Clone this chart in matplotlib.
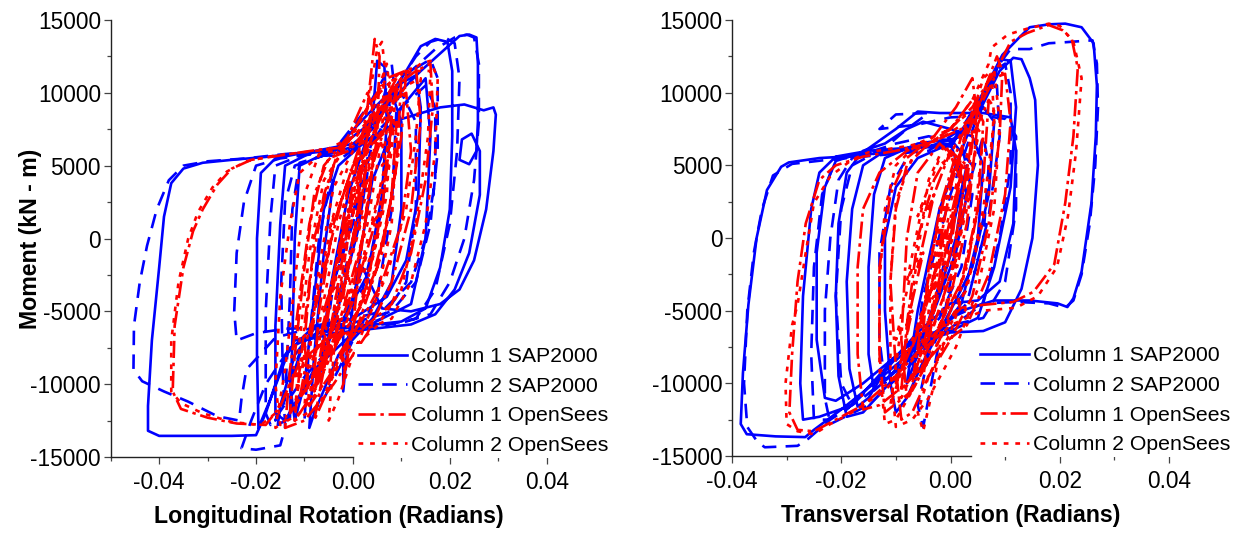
import matplotlib
matplotlib.use("Agg")
import matplotlib.pyplot as plt
from matplotlib.ticker import MultipleLocator, FormatStrFormatter

plt.rcParams['font.family'] = ['Liberation Sans', 'DejaVu Sans']
plt.rcParams['axes.unicode_minus'] = False

# ---------------- data (rotation [rad], moment [kN-m]) ----------------
long_c1_sap = [
    (0.000, 0), (0.003, 4500), (0.001, 500), (-0.004, -6000), (-0.007, -9500), (-0.005, -4000),
    (-0.001, 3000), (0.004, 8000), (0.005, 12200), (0.0065, 11800), (0.007, 8000), (0.006, 3000),
    (0.003, -2500), (-0.002, -5500), (-0.008, -6200), (-0.012, -8000), (-0.015, -11500), (-0.0155, -12800),
    (-0.013, -12300), (-0.0125, -7000), (-0.012, 0), (-0.011, 5000), (-0.006, 5800), (0.000, 6000),
    (0.006, 9000), (0.011, 11500), (0.014, 13200), (0.017, 13700), (0.0195, 13500), (0.0205, 11500),
    (0.0205, 7000), (0.020, 2000), (0.018, -2000), (0.015, -4800), (0.010, -5700), (0.002, -6000),
    (-0.006, -6300), (-0.013, -7500), (-0.017, -11000), (-0.0195, -13000), (-0.0198, -8000), (-0.0198, 0),
    (-0.019, 4500), (-0.016, 5500), (-0.010, 5900), (-0.004, 6000), (0.003, 8500), (0.009, 10500),
    (0.013, 11200), (0.014, 9000), (0.0135, 3000), (0.011, -1500), (0.007, -4000), (0.000, -5500),
    (-0.008, -6000), (-0.014, -8000), (-0.018, -12000), (-0.020, -13500), (-0.025, -13550), (-0.033, -13550),
    (-0.040, -13550), (-0.0423, -13200), (-0.0423, -11500), (-0.0415, -7000), (-0.040, -2000), (-0.0390, 1500),
    (-0.0375, 3800), (-0.035, 4800), (-0.031, 5200), (-0.025, 5400), (-0.018, 5600), (-0.010, 5900),
    (-0.004, 6000), (0.002, 7500), (0.008, 9500), (0.014, 11500), (0.019, 13000), (0.022, 13900),
    (0.024, 14000), (0.0255, 13800), (0.0258, 12000), (0.0258, 8000), (0.0255, 6000), (0.024, 5100),
    (0.022, 5400), (0.0225, 6800), (0.0245, 7200), (0.0262, 6000), (0.0262, 3000), (0.024, -1000),
    (0.021, -3500), (0.017, -5200), (0.012, -5900), (0.004, -6200), (-0.004, -6500), (-0.010, -7000),
    (-0.013, -10000), (-0.012, -12500), (-0.010, -10000), (-0.008, -4000), (-0.006, 2000), (-0.003, 5000),
    (0.002, 6500), (0.010, 8200), (0.018, 9000), (0.023, 9200), (0.027, 8800), (0.029, 9000),
    (0.0295, 8500), (0.029, 6000), (0.0275, 2000), (0.025, -1500), (0.022, -3500), (0.018, -4500),
    (0.012, -5000), (0.006, -4800), (0.002, -2000), (-0.002, -6000), (-0.002, -10500), (-0.001, -7000),
    (0.002, 0), (0.004, 4000), (0.010, 9000), (0.015, 11000), (0.016, 7000), (0.015, 0),
    (0.012, -4500), (0.006, -5500), (0.000, -6500), (-0.008, -9000), (-0.014, -12500), (-0.016, -12000),
    (-0.016, -6000), (-0.015, 1000), (-0.014, 5000), (-0.008, 6000), (0.000, 6500), (0.004, 7500),
    (0.008, 10000), (0.010, 8000), (0.010, 2000), (0.008, -3000), (0.004, -5500), (-0.003, -8000),
    (-0.008, -12000), (-0.009, -13000), (-0.008, -8000), (-0.006, -1000), (-0.004, 4000),
]
long_c2_sap = [
    (0.000, 0), (-0.003, -4000), (-0.006, -8000), (-0.004, -3000), (0.001, 3000), (0.005, 8000),
    (0.007, 10500), (0.008, 8000), (0.006, 2000), (0.002, -3500), (-0.004, -5800), (-0.010, -7000),
    (-0.014, -10500), (-0.016, -12500), (-0.014, -11000), (-0.013, -4000), (-0.0125, 2000), (-0.011, 5200),
    (-0.005, 5800), (0.002, 6500), (0.008, 10000), (0.013, 12500), (0.016, 13500), (0.019, 13800),
    (0.021, 13400), (0.022, 11000), (0.0215, 6000), (0.020, 1000), (0.017, -3500), (0.013, -5500),
    (0.006, -6000), (-0.004, -6200), (-0.012, -7000), (-0.018, -10000), (-0.021, -12500), (-0.023, -14400),
    (-0.020, -14500), (-0.015, -14200), (-0.014, -13000), (-0.0145, -9000), (-0.0148, -3000), (-0.014, 2500),
    (-0.012, 5000), (-0.006, 5700), (0.000, 6000), (0.006, 9000), (0.012, 11500), (0.016, 12300),
    (0.0175, 11000), (0.0175, 6000), (0.016, 1000), (0.013, -3000), (0.008, -5000), (0.000, -5800),
    (-0.008, -6100), (-0.016, -6800), (-0.022, -9000), (-0.023, -11000), (-0.0235, -12500), (-0.028, -12200),
    (-0.034, -11200), (-0.039, -10500), (-0.0435, -9800), (-0.0453, -9000), (-0.0452, -6000), (-0.044, -3000),
    (-0.0425, -500), (-0.0405, 2000), (-0.038, 4000), (-0.035, 5000), (-0.030, 5300), (-0.022, 5500),
    (-0.014, 5800), (-0.006, 6000), (0.000, 6200), (0.006, 9000), (0.012, 11500), (0.017, 13000),
    (0.021, 13800), (0.0235, 14000), (0.025, 13800), (0.026, 12000), (0.026, 8000), (0.025, 4000),
    (0.023, 0), (0.020, -3000), (0.016, -5200), (0.010, -5800), (0.002, -6000), (-0.006, -6100),
    (-0.014, -6200), (-0.020, -6500), (-0.024, -7000), (-0.0245, -5000), (-0.024, -1000), (-0.0225, 2500),
    (-0.020, 5000), (-0.015, 5500), (-0.008, 5800), (-0.002, 5600), (0.004, 7000), (0.010, 9000),
    (0.015, 10500), (0.017, 9000), (0.017, 4000), (0.015, 0), (0.012, -3000), (0.006, -5000),
    (0.000, -5500), (-0.004, -3000), (0.000, 1000), (0.004, 6500), (0.010, 10000), (0.013, 8000),
    (0.013, 2000), (0.011, -3000), (0.006, -5500), (-0.002, -6500), (-0.010, -9500), (-0.017, -12800),
    (-0.018, -12000), (-0.018, -5000), (-0.017, 1500), (-0.016, 5000), (-0.010, 5800), (-0.004, 6000),
    (0.003, 9000), (0.008, 12000), (0.009, 9000), (0.008, 2000), (0.005, -4000), (0.000, -7000),
    (-0.006, -11000), (-0.010, -12500), (-0.009, -7000), (-0.007, 0), (-0.004, 5000),
]
long_c1_os = [
    (0.000, 0), (0.003, 5500), (0.001, 1000), (-0.003, -5000), (-0.007, -9500), (-0.005, -5000),
    (-0.001, 2000), (0.003, 9000), (0.0045, 13700), (0.0055, 12500), (0.005, 7000), (0.002, 0),
    (-0.003, -6000), (-0.008, -10500), (-0.012, -12500), (-0.011, -9000), (-0.009, -3000), (-0.006, 3000),
    (-0.003, 6000), (0.003, 8000), (0.009, 10500), (0.013, 11500), (0.016, 12000), (0.0165, 9000),
    (0.015, 4000), (0.012, -1000), (0.008, -4500), (0.002, -6200), (-0.005, -6800), (-0.011, -8500),
    (-0.015, -11500), (-0.018, -12800), (-0.024, -12700), (-0.030, -12300), (-0.0355, -11700), (-0.0372, -10500),
    (-0.0368, -6000), (-0.035, -2000), (-0.033, 500), (-0.031, 2000), (-0.028, 3700), (-0.025, 4800),
    (-0.021, 5400), (-0.015, 5700), (-0.007, 6100), (0.000, 6300), (0.005, 8500), (0.009, 11000),
    (0.011, 11500), (0.010, 7000), (0.007, 1000), (0.003, -4000), (-0.002, -6500), (-0.007, -9000),
    (-0.011, -11000), (-0.013, -12000), (-0.012, -8000), (-0.010, -2000), (-0.008, 3000), (-0.005, 5500),
    (-0.001, 6000), (0.004, 7500), (0.008, 9500), (0.011, 10000), (0.012, 6000), (0.010, 1000),
    (0.006, -3000), (0.002, -5500), (-0.003, -8000), (-0.006, -11000), (-0.008, -12500), (-0.006, -9000),
    (-0.003, -3000), (0.000, 3000), (0.003, 7000), (0.006, 9500), (0.008, 8000), (0.006, 2000),
    (0.003, -3000), (-0.001, -7000), (-0.002, -10000), (0.000, -6000), (0.002, 0), (0.004, 5000),
    (0.008, 9000), (0.010, 11000), (0.009, 5000), (0.006, -1000), (0.001, -6000), (-0.004, -9000),
    (-0.009, -11500), (-0.010, -7000), (-0.008, 0), (-0.004, 5000), (0.002, 8500), (0.007, 11000),
    (0.013, 11800), (0.014, 8000), (0.012, 2000), (0.008, -3000), (0.003, -6500), (-0.004, -10000),
    (-0.010, -12500), (-0.014, -13000), (-0.013, -9000), (-0.011, -4000), (-0.009, 1000), (-0.006, 5000),
    (-0.001, 7000), (0.003, 10000), (0.005, 8000), (0.003, 2000), (0.000, -3500), (-0.004, -7000),
    (-0.008, -9500), (-0.007, -5000), (-0.004, 1000), (0.000, 5000), (0.004, 6500), (0.009, 8000),
    (0.008, 3000), (0.005, -2000), (0.001, -5000), (-0.002, -4000), (0.001, 2000), (0.003, 4000),
    (0.001, 2500), (0.002, 5000), (-0.001, 3500), (-0.003, -1000), (-0.002, 500), (-0.005, -4000),
    (-0.004, -3000), (-0.007, -7000), (-0.006, -6000), (-0.010, -10000), (-0.009, -9000), (-0.011, -11000),
    (-0.008, -5500), (-0.009, -6500), (-0.005, -1000), (-0.006, -2000), (-0.002, 3000), (-0.003, 2000),
    (0.001, 6000), (0.002, 5500), (0.006, 8500), (0.005, 8000), (0.009, 10500), (0.007, 6000),
    (0.008, 6500), (0.004, 1000), (0.005, 1500), (0.000, -4000), (0.001, -3500), (-0.004, -7500),
    (-0.003, -7000), (-0.008, -10500), (-0.005, -4500), (-0.006, -5000), (-0.001, 1000), (-0.002, 500),
    (0.003, 6500),
]
long_c2_os = [
    (0.000, 0), (-0.002, -3000), (-0.006, -8000), (-0.009, -11000), (-0.007, -6000), (-0.003, 1000),
    (0.002, 7000), (0.006, 10500), (0.009, 11000), (0.008, 6000), (0.005, 0), (0.001, -5000),
    (-0.005, -8000), (-0.010, -10500), (-0.014, -12500), (-0.016, -13000), (-0.014, -9000), (-0.012, -3000),
    (-0.010, 3000), (-0.007, 5800), (-0.001, 6200), (0.005, 9000), (0.010, 11000), (0.014, 12000),
    (0.016, 12200), (0.0175, 11000), (0.017, 6000), (0.015, 1000), (0.012, -3000), (0.008, -5500),
    (0.002, -6300), (-0.006, -7000), (-0.012, -9500), (-0.016, -12000), (-0.019, -12800), (-0.025, -12600),
    (-0.031, -12000), (-0.0355, -11300), (-0.0375, -10500), (-0.0375, -7000), (-0.036, -3000), (-0.034, 0),
    (-0.032, 1800), (-0.029, 3500), (-0.026, 4600), (-0.022, 5300), (-0.016, 5700), (-0.008, 6000),
    (-0.002, 6200), (0.003, 9000), (0.005, 13000), (0.006, 13500), (0.0065, 12000), (0.006, 7000),
    (0.003, 1000), (-0.001, -4000), (-0.006, -8500), (-0.010, -11500), (-0.009, -8000), (-0.007, -2000),
    (-0.004, 3500), (0.000, 6000), (0.006, 8000), (0.011, 10500), (0.014, 11000), (0.013, 7000),
    (0.011, 2000), (0.007, -2500), (0.003, -5500), (-0.002, -7500), (-0.005, -10000), (-0.004, -6000),
    (-0.001, 0), (0.002, 5000), (0.005, 8000), (0.007, 5000), (0.004, -1000), (0.000, -4000),
    (-0.002, -1000), (0.001, 3000), (0.004, 9000), (0.007, 12000), (0.008, 9000), (0.007, 3000),
    (0.003, -3000), (-0.002, -8000), (-0.007, -11500), (-0.012, -12500), (-0.011, -7000), (-0.009, -1000),
    (-0.006, 4000), (-0.002, 6000), (0.004, 9500), (0.010, 11500), (0.016, 11500), (0.0155, 7000),
    (0.013, 1000), (0.010, -3500), (0.005, -6000), (0.000, -7500), (-0.006, -10000), (-0.011, -12000),
    (-0.015, -12800), (-0.016, -10000), (-0.015, -4000), (-0.013, 1000), (-0.011, 4500), (-0.006, 6000),
    (0.000, 7000), (0.006, 9000), (0.009, 7000), (0.008, 1000), (0.005, -4000), (0.000, -8000),
    (-0.003, -11000), (-0.005, -12500), (-0.004, -8000), (-0.002, -2000), (0.001, 3500), (0.004, 6000),
    (0.003, 4500), (0.006, 7500), (0.004, 5000), (0.001, 500), (0.002, 1500), (-0.002, -3500),
    (-0.001, -2500), (-0.005, -7000), (-0.004, -6000), (-0.008, -9500), (-0.007, -8500), (-0.012, -11500),
    (-0.010, -8000), (-0.011, -9000), (-0.007, -3500), (-0.008, -4500), (-0.004, 1500), (-0.005, 500),
    (-0.001, 5000), (0.000, 4500), (0.004, 8500), (0.003, 7500), (0.008, 10000), (0.006, 5000),
    (0.007, 5500), (0.002, -1500), (0.003, -1000), (-0.002, -6000), (-0.001, -5500), (-0.006, -9000),
    (-0.003, -3000), (-0.004, -3500), (0.000, 2500), (-0.001, 1500), (0.004, 7000),
]

trans_c1_sap = [
    (0.000, 0), (0.003, 5000), (0.001, 0), (-0.004, -6000), (-0.008, -10000), (-0.006, -5000),
    (-0.002, 2000), (0.004, 8000), (0.008, 11000), (0.009, 12300), (0.011, 12200), (0.012, 9000),
    (0.011, 3500), (0.008, -2000), (0.005, -5500), (0.000, -6400), (-0.006, -6800), (-0.011, -8500),
    (-0.015, -11000), (-0.017, -11600), (-0.0185, -9000), (-0.019, -3000), (-0.018, 2000), (-0.016, 5000),
    (-0.012, 6000), (-0.006, 6200), (0.000, 6500), (0.005, 8500), (0.009, 11500), (0.0115, 12400),
    (0.013, 12300), (0.0145, 11000), (0.0155, 9500), (0.016, 5000), (0.015, 0), (0.013, -3500),
    (0.010, -5800), (0.006, -6400), (0.000, -6500), (-0.008, -7500), (-0.016, -10000), (-0.021, -11200),
    (-0.023, -11000), (-0.0245, -7000), (-0.0245, -1000), (-0.023, 3500), (-0.021, 5300), (-0.016, 5900),
    (-0.010, 7500), (-0.006, 8700), (-0.002, 8600), (0.006, 8600), (0.011, 8300), (0.012, 6000),
    (0.0115, 1000), (0.009, -3000), (0.005, -4300), (0.000, -4500), (-0.006, -6500), (-0.012, -9000),
    (-0.018, -11500), (-0.024, -12300), (-0.027, -12500), (-0.0275, -10000), (-0.027, -4000), (-0.0255, 2000),
    (-0.024, 4500), (-0.021, 5600), (-0.015, 6000), (-0.008, 6200), (0.000, 6300), (0.004, 8500),
    (0.008, 11500), (0.0095, 12600), (0.0126, 13800), (0.0145, 14500), (0.018, 14700), (0.021, 14750),
    (0.024, 14500), (0.0262, 13400), (0.0268, 10500), (0.0266, 7000), (0.0258, 2400), (0.024, -2300),
    (0.0225, -4150), (0.0214, -4750), (0.0196, -4500), (0.0145, -4300), (0.008, -4300), (0.002, -5000),
    (-0.006, -7500), (-0.014, -10000), (-0.020, -11800), (-0.025, -13200), (-0.0266, -13700), (-0.032, -13650),
    (-0.0373, -13500), (-0.0384, -12800), (-0.038, -9300), (-0.037, -4600), (-0.0355, 0), (-0.0336, 3300),
    (-0.031, 4900), (-0.0296, 5200), (-0.024, 5500), (-0.0171, 5650), (-0.010, 6000), (-0.004, 6300),
    (0.002, 7000), (0.006, 9000), (0.008, 8000), (0.007, 3000), (0.004, -2000), (0.000, -5000),
    (-0.005, -8500), (-0.008, -11000), (-0.010, -12000), (-0.011, -10000), (-0.012, -5000), (-0.012, 0),
    (-0.010, 3500), (-0.006, 5500), (0.000, 6500), (0.003, 3000), (0.001, -1000), (-0.004, -6000),
    (-0.010, -9500), (-0.016, -12000), (-0.019, -12300), (-0.0205, -9500), (-0.021, -4000), (-0.0205, 1000),
    (-0.019, 4500), (-0.016, 6000), (-0.012, 6500), (-0.008, 7500), (-0.005, 8000), (0.000, 7500),
    (0.004, 7000), (0.006, 5000), (0.005, 0), (0.002, -4500), (-0.002, -6500), (-0.008, -8500),
    (-0.014, -10500), (-0.015, -8000), (-0.015, -2000), (-0.014, 3000), (-0.012, 5500), (-0.006, 6500),
    (0.000, 6800), (0.004, 5000),
]
trans_c2_sap = [
    (0.000, 0), (-0.003, -4500), (-0.007, -9000), (-0.005, -4000), (0.000, 3000), (0.005, 8500),
    (0.008, 11500), (0.010, 12000), (0.011, 10000), (0.011, 5000), (0.009, 0), (0.006, -4500),
    (0.000, -6200), (-0.007, -7000), (-0.014, -10000), (-0.018, -11500), (-0.020, -10000), (-0.021, -4000),
    (-0.020, 2000), (-0.018, 5000), (-0.012, 6200), (-0.008, 7500), (-0.004, 8600), (-0.010, 8500),
    (-0.013, 7500), (-0.006, 7800), (0.000, 8300), (0.006, 8400), (0.010, 8200), (0.012, 7000),
    (0.012, 2000), (0.010, -3000), (0.006, -5500), (0.000, -6000), (-0.006, -7000), (-0.013, -9500),
    (-0.019, -11800), (-0.0225, -12500), (-0.025, -12500), (-0.0255, -8000), (-0.025, -2000), (-0.0235, 3000),
    (-0.021, 5400), (-0.016, 5800), (-0.008, 6000), (0.000, 6500), (0.005, 9000), (0.009, 12000),
    (0.011, 13000), (0.0145, 13000), (0.018, 13400), (0.021, 13470), (0.024, 13550), (0.026, 13600),
    (0.0268, 12000), (0.027, 9000), (0.0265, 5000), (0.0255, 1000), (0.024, -2500), (0.0225, -4300),
    (0.021, -4800), (0.018, -4500), (0.012, -4400), (0.006, -4500), (0.000, -5500), (-0.008, -8500),
    (-0.016, -11000), (-0.022, -12500), (-0.026, -13800), (-0.028, -14300), (-0.034, -14400), (-0.0354, -14000),
    (-0.0372, -13000), (-0.0378, -10000), (-0.0372, -5000), (-0.036, -1000), (-0.0345, 2000), (-0.0325, 4300),
    (-0.029, 5100), (-0.022, 5400), (-0.016, 5600), (-0.010, 5800), (-0.004, 6000), (0.002, 7500),
    (0.006, 10000), (0.0085, 10500), (0.009, 7000), (0.007, 1500), (0.004, -3000), (0.000, -5000),
    (-0.004, -8000), (-0.006, -11500), (-0.005, -13000), (-0.003, -9000), (0.000, -3000), (0.002, 2000),
    (0.006, 7000), (0.007, 5000), (0.006, 0), (0.003, -4500), (-0.002, -6500), (-0.008, -9000),
    (-0.015, -11500), (-0.022, -12800), (-0.023, -11000), (-0.023, -5000), (-0.022, 0), (-0.0205, 4000),
    (-0.018, 5500), (-0.014, 6000), (-0.010, 6500), (-0.004, 7000), (0.002, 6500), (0.004, 3000),
    (0.002, -2000), (-0.002, -5500), (-0.008, -8000), (-0.012, -10000), (-0.013, -7000), (-0.013, -1000),
    (-0.011, 3500), (-0.008, 5500),
]
trans_c1_os = [
    (0.000, 0), (0.002, 5000), (0.000, 500), (-0.004, -6000), (-0.007, -10000), (-0.005, -5000),
    (-0.002, 2000), (0.002, 7000), (0.005, 9000), (0.007, 11000), (0.0085, 12500), (0.0095, 11500),
    (0.009, 7000), (0.007, 1000), (0.004, -4000), (0.000, -7000), (-0.004, -9500), (-0.007, -12000),
    (-0.009, -12500), (-0.010, -9000), (-0.011, -3000), (-0.010, 2000), (-0.008, 5000), (-0.004, 6500),
    (0.002, 7500), (0.006, 9500), (0.008, 11000), (0.010, 11300), (0.011, 8000), (0.010, 3000),
    (0.007, -2500), (0.003, -6000), (-0.002, -7500), (-0.008, -10000), (-0.013, -11500), (-0.016, -11800),
    (-0.017, -8000), (-0.017, -2000), (-0.016, 2000), (-0.013, 4500), (-0.008, 6000), (-0.002, 6800),
    (0.004, 9000), (0.009, 12000), (0.011, 13500), (0.014, 14100), (0.018, 14650), (0.0205, 14300),
    (0.0222, 13700), (0.0233, 11700), (0.0225, 7000), (0.021, 2400), (0.019, -1800), (0.0152, -3700),
    (0.0115, -4400), (0.006, -4600), (0.002, -4800), (-0.004, -7000), (-0.010, -9500), (-0.016, -11500),
    (-0.021, -12500), (-0.025, -13300), (-0.028, -13200), (-0.0295, -12000), (-0.029, -8000), (-0.028, -3000),
    (-0.0265, 1000), (-0.024, 4000), (-0.021, 5000), (-0.016, 5600), (-0.010, 6000), (-0.004, 6500),
    (0.000, 7500), (0.004, 9500), (0.006, 8000), (0.005, 2000), (0.002, -3000), (-0.002, -6000),
    (-0.006, -9000), (-0.009, -10500), (-0.008, -6000), (-0.006, 0), (-0.003, 4000), (0.000, 6000),
    (0.003, 5000), (0.001, 0), (0.004, 7000), (0.007, 9500), (0.006, 4000), (0.003, -2000),
    (-0.002, -7000), (-0.007, -10500), (-0.012, -12000), (-0.013, -8000), (-0.013, -2000), (-0.011, 3000),
    (-0.008, 5500), (-0.003, 7000), (0.001, 9000), (0.004, 11000), (0.005, 8000), (0.003, 1000),
    (0.000, -4000), (-0.004, -8000), (-0.008, -11000), (-0.009, -7000), (-0.008, 0), (-0.006, 4500),
    (-0.002, 6500), (0.002, 5000), (0.000, -1000), (-0.003, -5000), (-0.005, -6500), (-0.004, -2000),
    (-0.001, 3000), (0.002, 6000), (0.001, 4500), (0.003, 7500), (0.000, 3500), (-0.002, -500),
    (-0.001, 500), (-0.004, -4000), (-0.003, -3000), (-0.007, -7500), (-0.006, -6500), (-0.010, -10000),
    (-0.007, -5000), (-0.008, -6000), (-0.005, -1000), (-0.006, -2000), (-0.003, 3000), (-0.004, 2000),
    (0.000, 6000), (0.001, 5000), (0.005, 9000), (0.003, 4000), (0.004, 4500), (0.000, -2000),
    (0.001, -1500), (-0.004, -7000), (-0.002, -3000), (-0.003, -3500), (0.001, 3000),
]
trans_c2_os = [
    (0.000, 0), (-0.002, -3500), (-0.006, -8000), (-0.004, -3000), (0.000, 3500), (0.004, 8500),
    (0.006, 11000), (0.0075, 11500), (0.008, 8000), (0.006, 2000), (0.003, -3500), (-0.002, -7000),
    (-0.007, -10500), (-0.010, -12500), (-0.012, -12800), (-0.013, -9000), (-0.013, -3000), (-0.012, 2000),
    (-0.010, 5000), (-0.006, 6500), (0.000, 7500), (0.004, 9500), (0.007, 12000), (0.0075, 13100),
    (0.0105, 14000), (0.014, 14400), (0.018, 14750), (0.020, 14600), (0.0225, 13500), (0.024, 11000),
    (0.023, 6000), (0.0215, 1500), (0.0195, -2000), (0.016, -4000), (0.012, -4800), (0.006, -5000),
    (0.000, -6000), (-0.006, -8000), (-0.012, -10500), (-0.018, -12000), (-0.022, -12800), (-0.025, -13500),
    (-0.028, -13300), (-0.030, -12800), (-0.0302, -10000), (-0.029, -6000), (-0.028, -4600), (-0.0265, -1000),
    (-0.025, 2400), (-0.022, 4250), (-0.018, 5400), (-0.015, 5900), (-0.0076, 6350), (-0.002, 6800),
    (0.003, 8000), (0.006, 10000), (0.008, 9000), (0.007, 3000), (0.004, -2000), (0.000, -6500),
    (-0.004, -9500), (-0.006, -12000), (-0.005, -13300), (-0.003, -10000), (-0.001, -5000), (0.002, 1000),
    (0.004, 5000), (0.005, 7000), (0.003, 2000), (0.000, -2500), (-0.003, -6000), (-0.006, -8500),
    (-0.009, -11000), (-0.008, -7000), (-0.006, -1000), (-0.004, 4000), (-0.001, 6500), (0.002, 4000),
    (0.005, 9000), (0.008, 11500), (0.009, 8000), (0.008, 2000), (0.005, -3500), (0.001, -7500),
    (-0.004, -11000), (-0.007, -12500), (-0.010, -13000), (-0.011, -9000), (-0.011, -3000), (-0.010, 2500),
    (-0.007, 5500), (-0.002, 7000), (0.003, 8500), (0.006, 7000), (0.004, 0), (0.001, -5000),
    (-0.003, -9000), (-0.005, -10000), (-0.004, -5000), (-0.002, 1000), (0.001, 5500), (0.003, 3000),
    (0.001, -2000), (-0.002, -7000), (-0.001, -3000), (0.001, 2000), (0.000, 1000), (0.002, 4500),
    (-0.001, 1500), (-0.003, -2500), (-0.002, -1500), (-0.006, -6000), (-0.005, -5000), (-0.009, -9000),
    (-0.008, -8000), (-0.011, -11500), (-0.009, -6000), (-0.010, -7000), (-0.007, -2000), (-0.008, -3000),
    (-0.005, 2500), (-0.006, 1500), (-0.002, 5500), (-0.001, 5000), (0.003, 8000), (0.001, 3500),
    (0.002, 4000), (-0.002, -2500), (-0.001, -2000), (-0.005, -8000), (-0.003, -4000), (-0.004, -4500),
    (0.000, 2000),
]

series_labels = ["Column 1 SAP2000", "Column 2 SAP2000", "Column 1 OpenSees", "Column 2 OpenSees"]
x_ticks = [-0.04, -0.02, 0.00, 0.02, 0.04]
y_ticks = [-15000, -10000, -5000, 0, 5000, 10000, 15000]

# ---------------- styling ----------------
BLUE = '#0000FF'
RED = '#FF0000'
LW = 1.9
styles = [
    dict(color=BLUE, lw=LW, linestyle='-'),
    dict(color=BLUE, lw=LW, dashes=(5.5, 3.5)),
    dict(color=RED, lw=LW, dashes=(6.5, 1.8, 1.3, 1.8)),
    dict(color=RED, lw=LW, dashes=(1.8, 2.6)),
]

fig = plt.figure(figsize=(12.57, 5.33), dpi=100)
ax1 = fig.add_axes([110.7 / 1257, 76 / 533, 436 / 1257, 437 / 533])
ax2 = fig.add_axes([732 / 1257, 77 / 533, 437 / 1257, 436 / 533])

panels = [
    (ax1, [long_c1_sap, long_c2_sap, long_c1_os, long_c2_os], (-0.05, 0.04), 'Longitudinal Rotation (Radians)', (-0.05, 0.0)),
    (ax2, [trans_c1_sap, trans_c2_sap, trans_c1_os, trans_c2_os], (-0.04, 0.04), 'Transversal Rotation (Radians)', (-0.04, 0.0037)),
]

for ax, data, xlim, xlabel, xbounds in panels:
    handles = []
    for pts, st, lab in zip(data, styles, series_labels):
        xs = [p[0] for p in pts]
        ys = [p[1] for p in pts]
        h, = ax.plot(xs, ys, label=lab, solid_joinstyle='round', dash_joinstyle='round',
                     dash_capstyle='butt', **st)
        handles.append(h)
    ax.set_xlim(*xlim)
    ax.set_ylim(-15000, 15000)
    ax.set_xticks(x_ticks)
    ax.set_yticks(y_ticks)
    ax.xaxis.set_major_formatter(FormatStrFormatter('%.2f'))
    ax.xaxis.set_minor_locator(MultipleLocator(0.01))
    ax.yaxis.set_minor_locator(MultipleLocator(2500))
    for s in ['top', 'right']:
        ax.spines[s].set_visible(False)
    for s in ['left', 'bottom']:
        ax.spines[s].set_linewidth(1.0)
        ax.spines[s].set_color('#222222')
    ax.spines['bottom'].set_bounds(*xbounds)
    ax.tick_params(axis='both', which='major', direction='out', length=5, width=0.9,
                   color='#444444', labelsize=16.3)
    ax.tick_params(axis='both', which='minor', direction='out', length=3, width=0.9, color='#444444')
    ax.tick_params(axis='x', pad=5)
    ax.tick_params(axis='y', pad=2)
    ax.set_xlabel(xlabel, fontsize=16.7, fontweight='bold')
    ax.xaxis.set_label_coords(0.5, -0.137)
    ax.xaxis.label.set_va('center')
    leg = ax.legend(handles=handles, loc='upper left', bbox_to_anchor=(0.56, 0.259),
                    fontsize=15.3, frameon=True, fancybox=False, framealpha=1.0,
                    edgecolor='none', facecolor='white', handlelength=2.3,
                    handletextpad=0.2, labelspacing=0.5, borderpad=0.15, borderaxespad=0.0)

ax1.set_ylabel('Moment (kN - m)', fontsize=16.7, fontweight='bold')
ax1.yaxis.set_label_coords(-0.185, 0.5)
ax1.yaxis.label.set_va('center')

fig.savefig('out.png', dpi=100)
